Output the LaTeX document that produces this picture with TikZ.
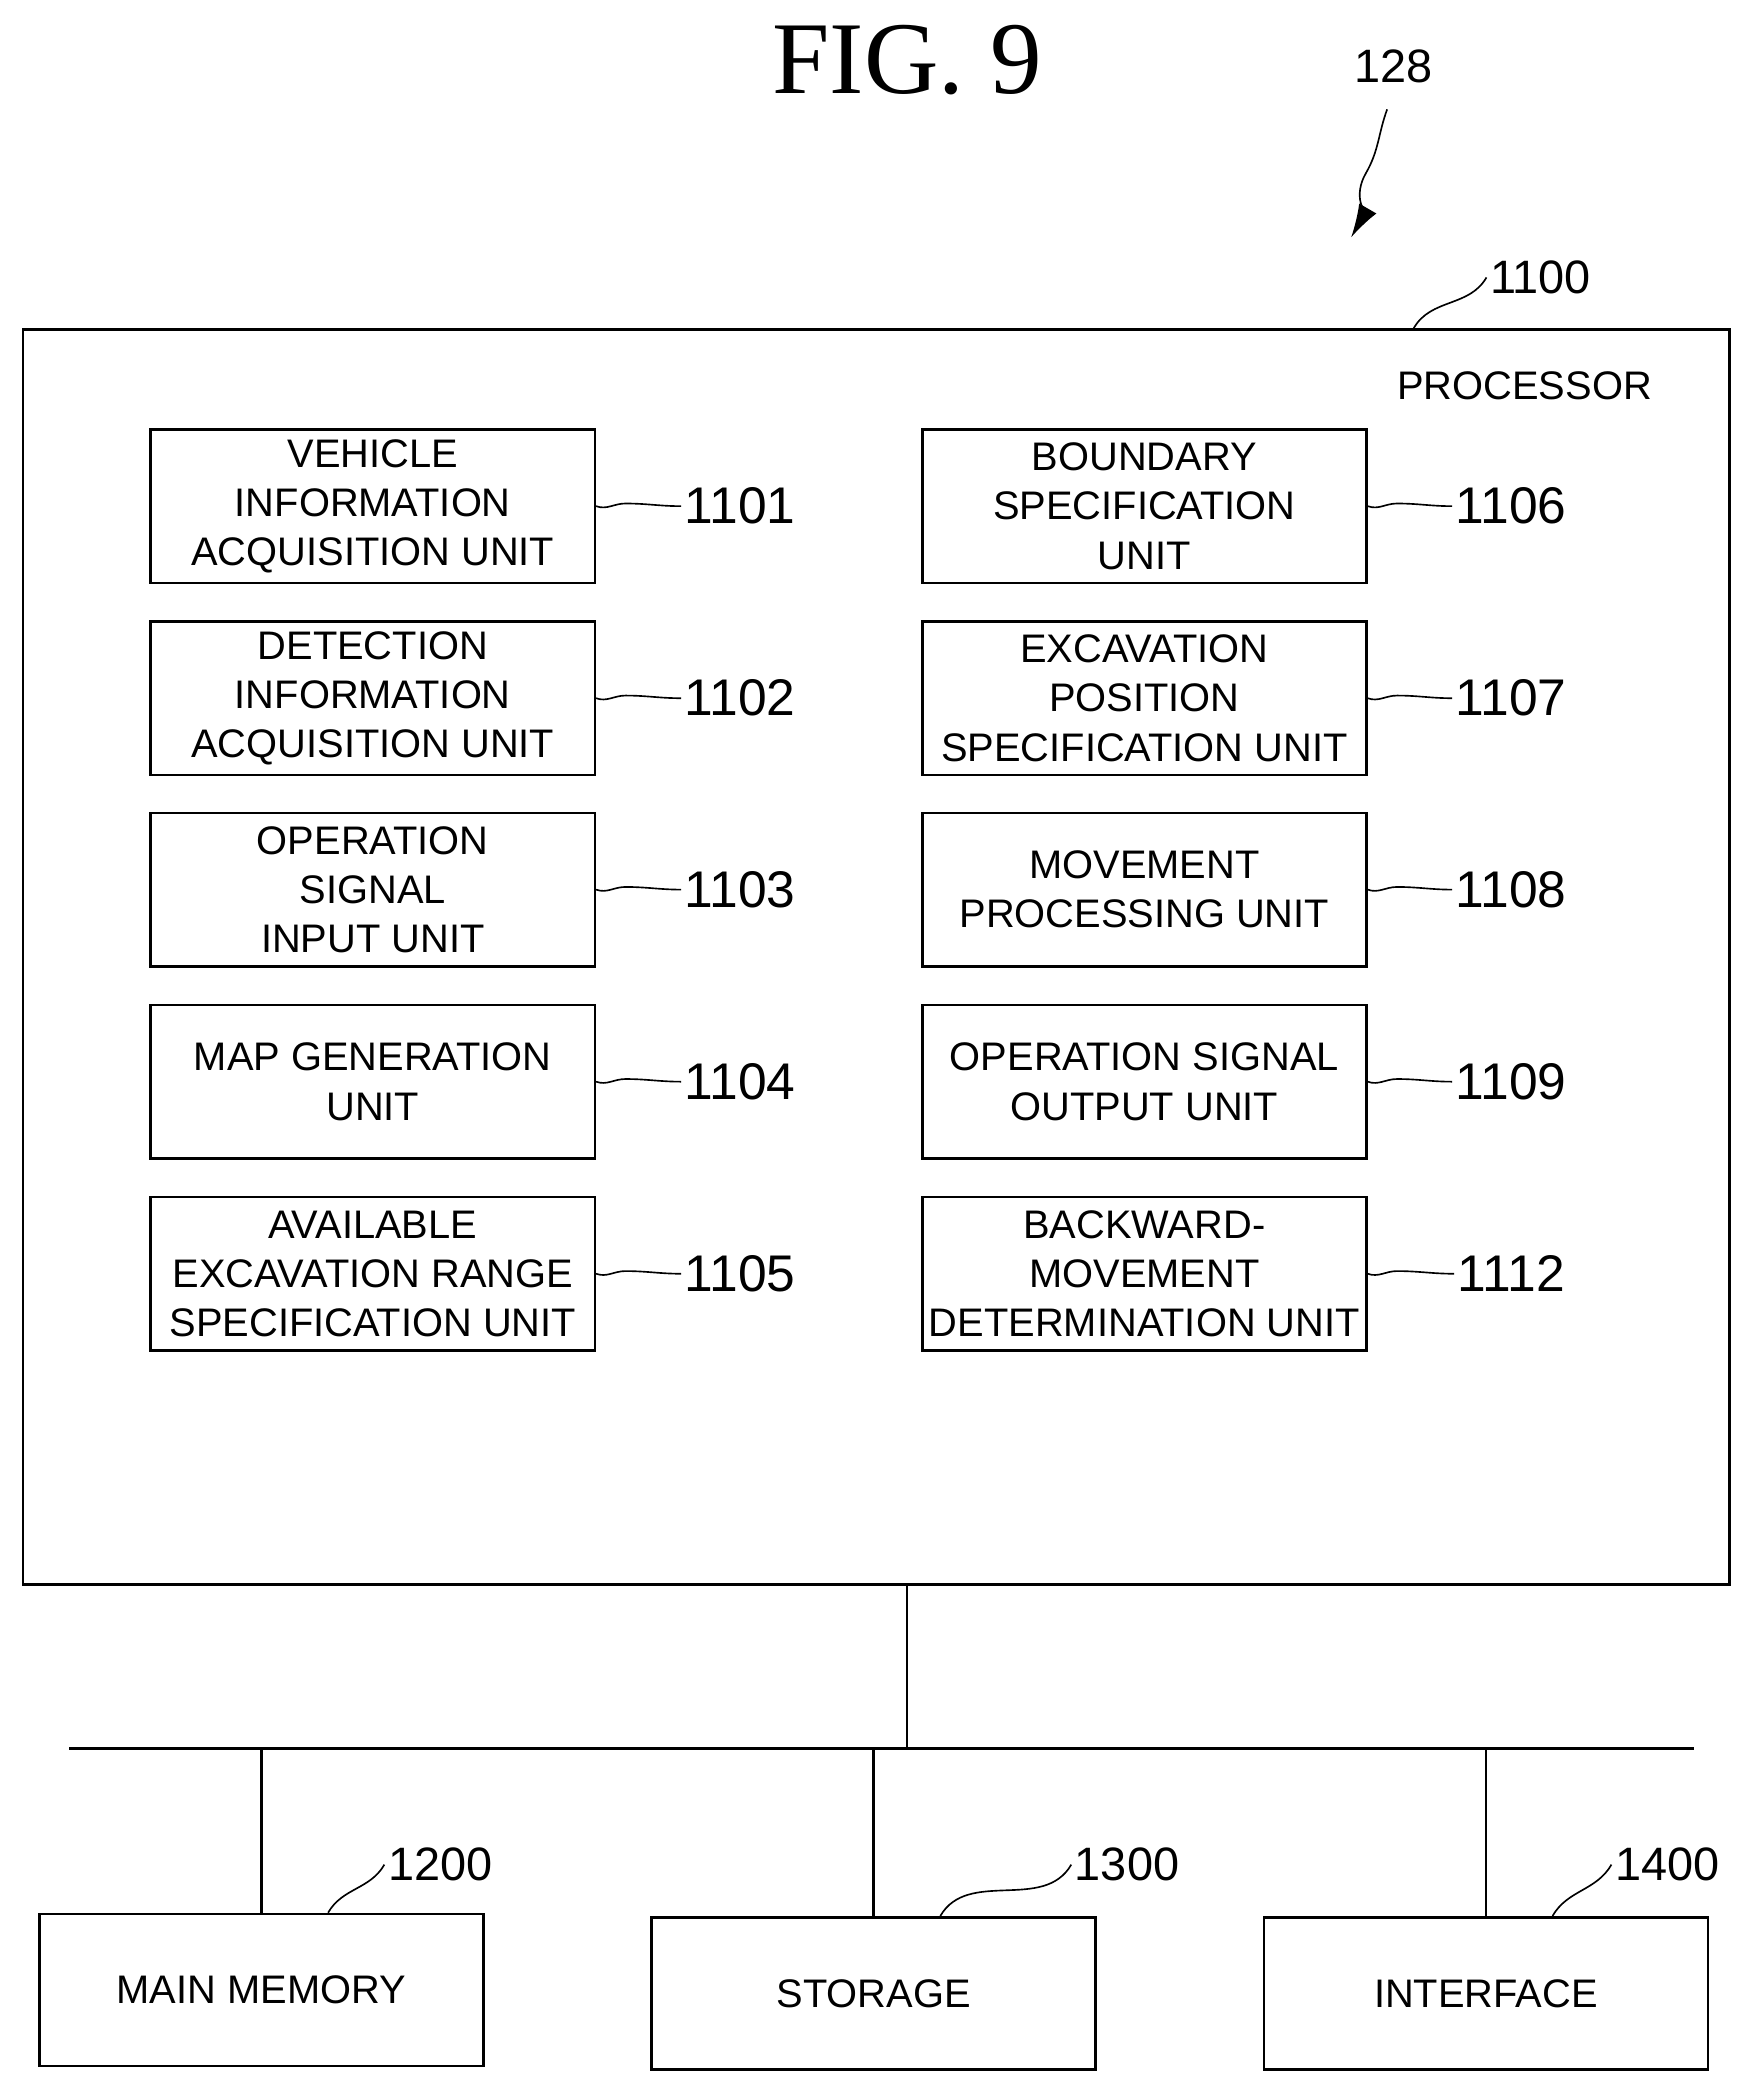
\documentclass[tikz,border=0pt]{standalone}
\usepackage{fontspec}
\setmainfont{Liberation Sans}
\newfontfamily\figfont{Liberation Serif}
\usetikzlibrary{arrows.meta}
\begin{document}
\begin{tikzpicture}
  [x=0.02cm,y=-0.02cm,line width=1.1pt,
   unit/.style={draw,minimum width=6.66cm,minimum height=2.3cm,inner sep=1pt,align=center,
     font=\fontsize{17}{21}\selectfont},
   dev/.style={draw,minimum width=6.66cm,minimum height=2.28cm,font=\fontsize{17}{21}\selectfont},
   num/.style={font=\fontsize{22}{24}\selectfont,inner sep=1pt},
   wave/.style={line width=0.7pt}]
  \useasboundingbox (0,0) rectangle (1310,1564);
  \node[font=\figfont\fontsize{44}{48}\selectfont] (fig) at (680,45) {FIG. 9};
  % processor
  \node[draw,minimum width=25.6cm,minimum height=18.82cm] (proc) at (657,717.5) {};
  \node[font=\fontsize{17}{20}\selectfont] (pname) at (1143,289) {PROCESSOR};
  \node[num,font=\fontsize{20}{22}\selectfont] (n1100) at (1155,208) {1100};
  \draw[wave] (1060,246) to[out=60,in=240] (n1100.west);
  \node[num,font=\fontsize{20}{22}\selectfont] (n128) at (1045,50) {128};
  \draw[wave,-{Latex[length=0.5cm,width=0.3cm]}] (1040,82) to[out=250,in=60] (1024,130) to[out=240,in=60] (1013,178);
  % units
  \node[unit] (u1101) at (279.5,379.5) {VEHICLE\\INFORMATION\\ACQUISITION UNIT};
  \node[unit] (u1102) at (279.5,523.5) {DETECTION\\INFORMATION\\ACQUISITION UNIT};
  \node[unit] (u1103) at (279.5,667) {OPERATION\\SIGNAL\\INPUT UNIT};
  \node[unit] (u1104) at (279.5,811) {MAP GENERATION\\UNIT};
  \node[unit] (u1105) at (279.5,955) {AVAILABLE\\EXCAVATION RANGE\\SPECIFICATION UNIT};
  \node[unit] (u1106) at (858,379.5) {BOUNDARY\\SPECIFICATION\\UNIT};
  \node[unit] (u1107) at (858,523.5) {EXCAVATION\\POSITION\\SPECIFICATION UNIT};
  \node[unit] (u1108) at (858,667) {MOVEMENT\\PROCESSING UNIT};
  \node[unit] (u1109) at (858,811) {OPERATION SIGNAL\\OUTPUT UNIT};
  \node[unit] (u1112) at (858,955) {BACKWARD-\\MOVEMENT\\DETERMINATION UNIT};
  \foreach \u/\x in {1101/555,1102/555,1103/555,1104/555,1105/555,1106/1133,1107/1133,1108/1133,1109/1133,1112/1133}{
    \path (u\u.east) ++(0,0) coordinate (c\u);
    \node[num] (l\u) at (\x,0 |- c\u) {\u};
    \draw[wave] (u\u.east) to[out=-20,in=180] ++(22,-2) to[out=0,in=180] (l\u.west);
  }
  % bus
  \coordinate (busl) at (52,1311);
  \coordinate (busr) at (1270,1311);
  \draw (busl) -- (busr);
  \draw (proc.south -| 680,0) -- (680,1311);
  \node[dev] (mem) at (196,1492) {MAIN MEMORY};
  \node[dev] (sto) at (655,1494.5) {STORAGE};
  \node[dev] (ifc) at (1114,1494.5) {INTERFACE};
  \foreach \d/\n/\x in {mem/1200/330,sto/1300/845,ifc/1400/1250}{
    \draw (\d.north) -- (\d.north |- busl);
    \node[num,font=\fontsize{20}{22}\selectfont] (l\n) at (\x,1398) {\n};
    \draw[wave] ([xshift=1cm]\d.north) to[out=60,in=240] (l\n.west);
  }
\end{tikzpicture}
\end{document}
